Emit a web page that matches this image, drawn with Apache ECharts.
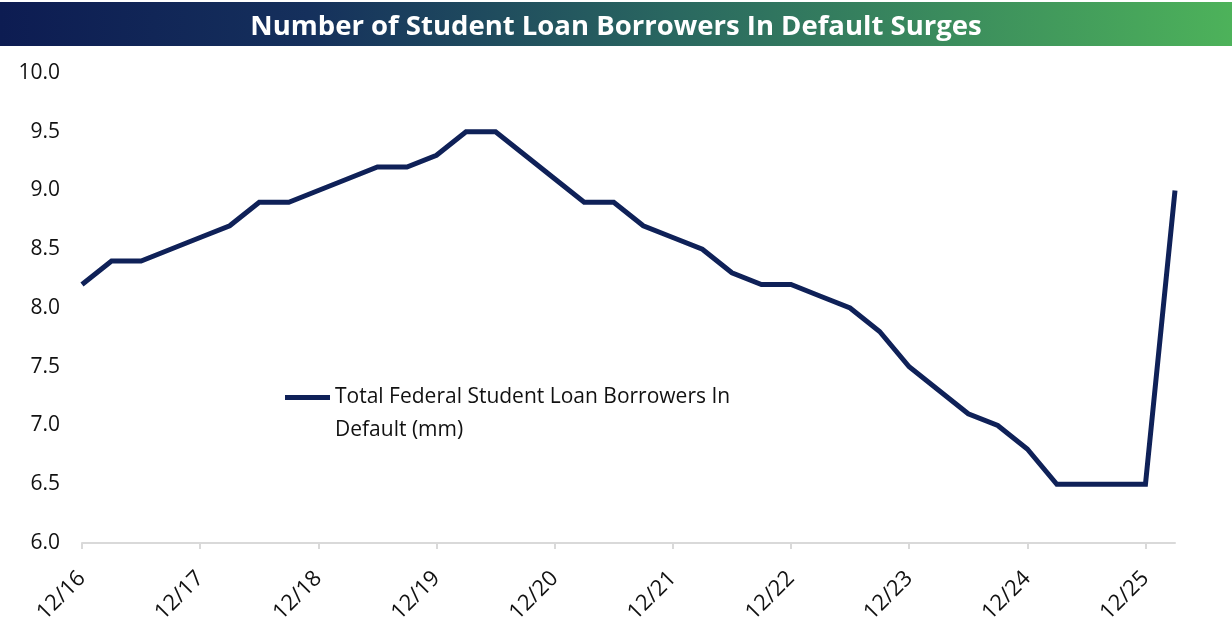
<!DOCTYPE html>
<html>
<head>
<meta charset="utf-8">
<title>Student Loan Borrowers In Default</title>
<script src="https://cdn.jsdelivr.net/npm/echarts@6/dist/echarts.min.js"></script>
<style>
  html, body { margin: 0; padding: 0; background: #fff; }
  #chart { width: 1232px; height: 630px; }
</style>
</head>
<body>
<div id="chart"></div>
<script>
// quarter-end dates, 12/16 .. 3/26
var quarters = [
  '12/16', '3/17', '6/17', '9/17', '12/17', '3/18', '6/18', '9/18',
  '12/18', '3/19', '6/19', '9/19', '12/19', '3/20', '6/20', '9/20',
  '12/20', '3/21', '6/21', '9/21', '12/21', '3/22', '6/22', '9/22',
  '12/22', '3/23', '6/23', '9/23', '12/23', '3/24', '6/24', '9/24',
  '12/24', '3/25', '6/25', '9/25', '12/25', '3/26'
];

// borrowers in default, millions
var borrowers = [
  8.2, 8.4, 8.4, 8.5, 8.6, 8.7, 8.9, 8.9,
  9.0, 9.1, 9.2, 9.2, 9.3, 9.5, 9.5, 9.3,
  9.1, 8.9, 8.9, 8.7, 8.6, 8.5, 8.3, 8.2,
  8.2, 8.1, 8.0, 7.8, 7.5, 7.3, 7.1, 7.0,
  6.8, 6.5, 6.5, 6.5, 6.5, 9.0
];

var seriesName = 'Total Federal Student Loan Borrowers In\nDefault (mm)';
var titleText = 'Number of Student Loan Borrowers In Default Surges';

var chart = echarts.init(document.getElementById('chart'));

var option = {
    animation: false,
    graphic: [{
        type: 'rect',
        z: 0,
        shape: { x: 0, y: 2, width: 1232, height: 44 },
        style: {
            fill: new echarts.graphic.LinearGradient(0, 0, 1, 0, [
                { offset: 0, color: '#0d1c52' },
                { offset: 0.25, color: '#15305c' },
                { offset: 0.55, color: '#2a6860' },
                { offset: 1, color: '#4db25a' }
            ])
        }
    }],
    title: {
        text: titleText,
        left: 'center',
        top: 8,
        z: 10,
        textStyle: {
            color: '#ffffff',
            fontFamily: 'Open Sans',
            fontWeight: 'bold',
            fontSize: 27.5
        }
    },
    legend: {
        left: 280,
        top: 343,
        icon: 'rect',
        itemWidth: 45,
        itemHeight: 5,
        itemGap: 5,
        // blank first line keeps the marker level with the first text line
        formatter: function (name) { return '\n' + name; },
        textStyle: {
            fontFamily: 'Open Sans',
            fontSize: 21,
            color: '#111',
            lineHeight: 33
        }
    },
    grid: {
        left: 82,
        right: 57,
        top: 73,
        bottom: 87,
        containLabel: false
    },
    xAxis: {
        type: 'category',
        data: quarters,
        boundaryGap: false,
        axisLine: { lineStyle: { color: '#d9d9d9', width: 2 } },
        axisTick: { show: true, interval: 3, length: 6, lineStyle: { color: '#d9d9d9', width: 2 } },
        axisLabel: {
            interval: 3,
            rotate: 45,
            margin: 32,
            fontFamily: 'Open Sans',
            fontSize: 22,
            color: '#111'
        },
        splitLine: { show: false }
    },
    yAxis: {
        type: 'value',
        min: 6,
        max: 10,
        interval: 0.5,
        axisLine: { show: false },
        axisTick: { show: false },
        splitLine: { show: false },
        axisLabel: {
            margin: 22,
            fontFamily: 'Open Sans',
            fontSize: 21,
            color: '#111',
            formatter: function (v) { return v.toFixed(1); }
        }
    },
    series: [{
        name: seriesName,
        type: 'line',
        data: borrowers,
        symbol: 'none',
        lineStyle: { color: '#0f2158', width: 5, join: 'miter' },
        itemStyle: { color: '#0f2158' }
    }]
};

chart.setOption(option);
</script>
</body>
</html>
